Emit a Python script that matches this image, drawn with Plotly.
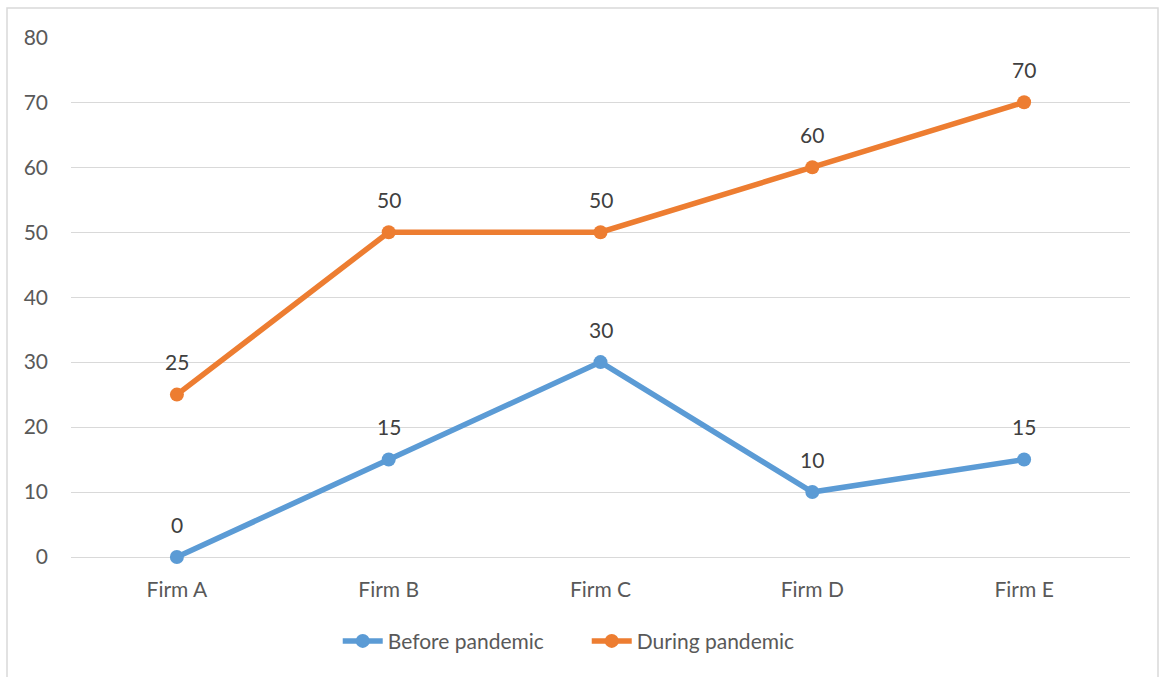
import plotly.graph_objects as go

firms = ["Firm A", "Firm B", "Firm C", "Firm D", "Firm E"]
before_pandemic = [0, 15, 30, 10, 15]
during_pandemic = [25, 50, 50, 60, 70]
y_ticks = [0, 10, 20, 30, 40, 50, 60, 70, 80]

BLUE = "#5B9BD5"
ORANGE = "#ED7D31"
FONT = "Lato, 'Open Sans', sans-serif"
PLOT_W, PLOT_H = 1059, 520

fig = go.Figure()
for name, vals, col in [("Before pandemic", before_pandemic, BLUE),
                        ("During pandemic", during_pandemic, ORANGE)]:
    fig.add_trace(go.Scatter(
        x=firms, y=vals, name=name, mode="lines+markers",
        line=dict(color=col, width=5.5),
        marker=dict(color=col, size=14),
        cliponaxis=False,
    ))
    for f, v in zip(firms, vals):
        fig.add_annotation(x=f, y=v, text=str(v), showarrow=False,
                           yshift=33, font=dict(size=21, color="#404040", family=FONT))

# outer chart frame
fig.add_shape(type="rect", xref="paper", yref="paper", layer="below",
              x0=-64 / PLOT_W, x1=1087 / PLOT_W,
              y0=-140 / PLOT_H, y1=1 + 29 / PLOT_H,
              line=dict(color="#D9D9D9", width=1.5), fillcolor="rgba(0,0,0,0)")

fig.update_layout(
    width=1161, height=677,
    margin=dict(l=71, r=31, t=37, b=120),
    paper_bgcolor="white", plot_bgcolor="white",
    font=dict(family=FONT, size=21, color="#595959"),
    showlegend=True,
    legend=dict(orientation="h", x=0.487, xanchor="center", y=-0.162, yanchor="middle",
                font=dict(size=21, color="#595959"), itemwidth=40, entrywidth=194,
                tracegroupgap=0),
    xaxis=dict(showgrid=False, showline=False, zeroline=False, ticks="",
               ticklabelstandoff=18, range=[-0.5, 4.5]),
    yaxis=dict(range=[0, 80.05], tickvals=y_ticks, showgrid=True, gridcolor="#D9D9D9",
               gridwidth=1.3, zeroline=True, zerolinecolor="#D9D9D9", zerolinewidth=1.3,
               showline=False, ticks="", ticklabelstandoff=22),
)
fig.write_html("out.html")
